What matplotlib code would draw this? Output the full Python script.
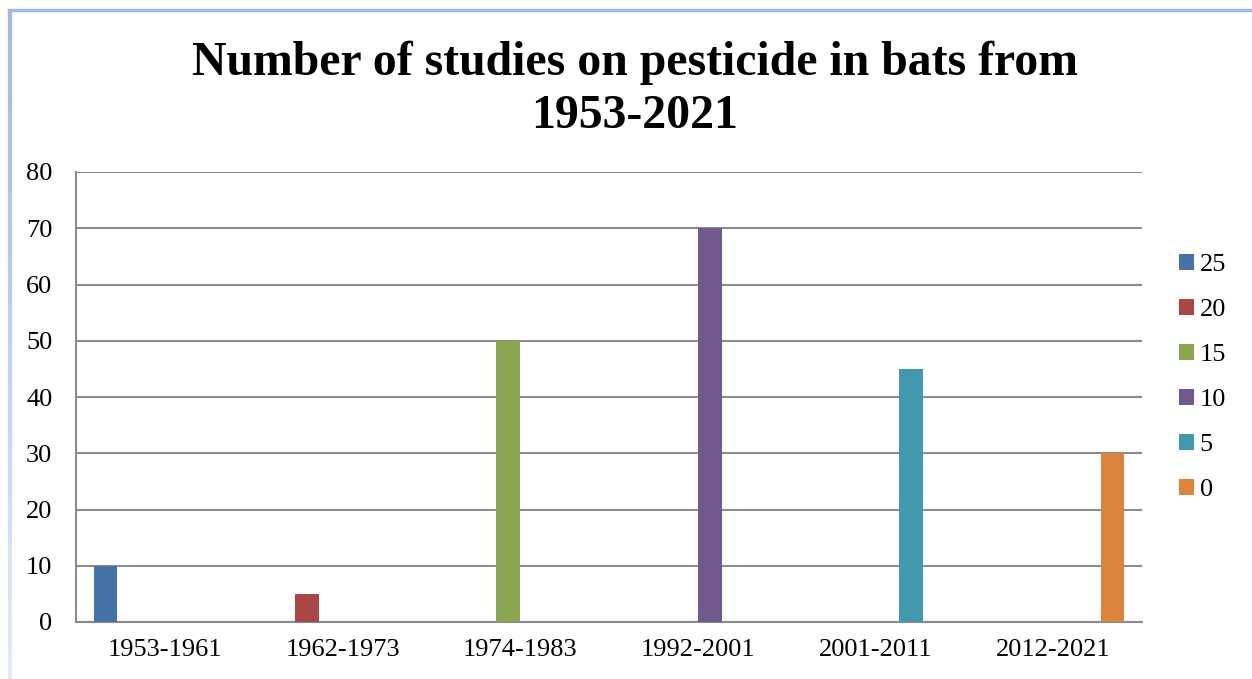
import matplotlib
matplotlib.use("Agg")
import matplotlib.pyplot as plt
import numpy as np
from matplotlib.collections import LineCollection
from matplotlib.patches import Patch

categories = ["1953-1961", "1962-1973", "1974-1983", "1992-2001", "2001-2011", "2012-2021"]
series_names = ["25", "20", "15", "10", "5", "0"]
values = [10, 5, 50, 70, 45, 30]  # one value per series, shown at its own category
series_colors = ["#4572A7", "#AA4643", "#89A54E", "#71588F", "#4198AF", "#DB843D"]
yticks = [0, 10, 20, 30, 40, 50, 60, 70, 80]
title = "Number of studies on pesticide in bats from\n1953-2021"

plt.rcParams['font.family'] = ['Liberation Serif', 'DejaVu Serif']

fig = plt.figure(figsize=(12.52, 6.79), dpi=100)
ax = fig.add_axes([76/1252, 1 - 622/679, (1142 - 76)/1252, (622 - 172)/679])

n = len(series_names)
w = 1 / (n + 1.5)
x = np.arange(len(categories))
for i, (name, val, col) in enumerate(zip(series_names, values, series_colors)):
    heights = [val if j == i else 0 for j in range(len(categories))]
    ax.bar(x + (i - (n - 1) / 2) * w, heights, width=w, color=col, label=name, zorder=3)

ax.set_xlim(-0.5, len(categories) - 0.5)
ax.set_ylim(0, 80)
ax.set_yticks(yticks)
ax.set_xticks(x)
ax.set_xticklabels(categories)
ax.grid(axis='y', color='#8c8c8c', linewidth=1.5, zorder=0)
ax.tick_params(axis='both', length=0, labelsize=19)
ax.tick_params(axis='y', pad=17)
ax.tick_params(axis='x', pad=12)
for s in ['top', 'right']:
    ax.spines[s].set_visible(False)
for s in ['left', 'bottom']:
    ax.spines[s].set_color('#8c8c8c')
    ax.spines[s].set_linewidth(1.5)

handles = [Patch(facecolor=c, edgecolor='none') for c in series_colors]
fig.legend(handles, series_names, loc='upper left', bbox_to_anchor=(1179/1252, 1 - 254/679),
           frameon=False, fontsize=19, handlelength=0.55, handleheight=0.55,
           handletextpad=0.23, labelspacing=0.86, borderpad=0, borderaxespad=0)

fig.text(635/1252, 1 - 41/679, title, ha='center', va='top', fontsize=34.4,
         fontweight='bold', linespacing=1.26)

# chart border (top and fading left edge)
fig.add_artist(plt.Line2D([9/1252, 1.0], [1 - 10/679, 1 - 10/679], color='#9db9e6',
                          linewidth=2.5, transform=fig.transFigure))
ys = np.linspace(1 - 10/679, 0, 60)
segs = [[(9.5/1252, ys[k]), (9.5/1252, ys[k + 1])] for k in range(len(ys) - 1)]
t = np.linspace(0, 1, len(segs))
c0 = np.array([0x9d, 0xb9, 0xe6]) / 255
c1 = np.array([0xe3, 0xea, 0xf7]) / 255
cols = [tuple(c0 * (1 - tt) + c1 * tt) for tt in t]
lc = LineCollection(segs, colors=cols, linewidths=3, transform=fig.transFigure)
fig.add_artist(lc)

fig.savefig("out.png", dpi=100)
